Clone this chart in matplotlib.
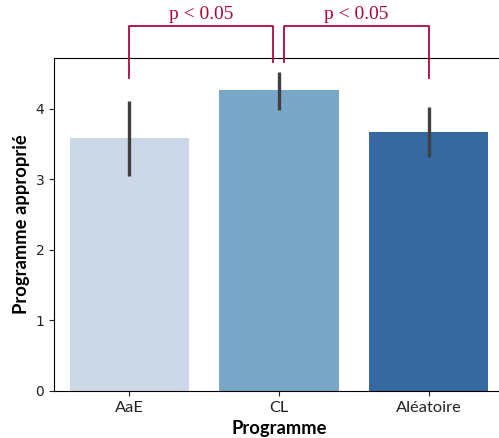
import matplotlib
matplotlib.use("Agg")
import matplotlib.pyplot as plt
import numpy as np

# values
programmes = ["AaE", "CL", "Aléatoire"]
moyennes = [3.58, 4.26, 3.67]
ci_bas = [3.05, 3.99, 3.31]
ci_haut = [4.11, 4.52, 4.03]
couleurs = ["#ccd8e8", "#79a7c8", "#3569a0"]

# significance brackets: (x1, x2, y_top, y_left, y_right, label)
comparaisons = [
    (0.0, 0.963, 5.18, 4.44, 4.67, "p < 0.05"),
    (1.033, 2.0, 5.18, 4.67, 4.44, "p < 0.05"),
]

fig = plt.figure(figsize=(4.99, 4.38), dpi=100)
ax = fig.add_axes([54 / 499, 47 / 438, 450 / 499, 333 / 438])

x = np.arange(len(programmes))
ax.bar(x, moyennes, width=0.8, color=couleurs, zorder=1)
ax.vlines(x, ci_bas, ci_haut, color="#404040", linewidth=2.4, zorder=2)

ax.set_xlim(-0.505, 2.505)
ax.set_ylim(0, 4.72)
ax.set_yticks([0, 1, 2, 3, 4])
ax.set_xticks(x)
ax.set_xticklabels(programmes, family="Lato", fontsize=11.8)
ax.tick_params(axis="y", labelsize=10, colors="#222222")
ax.tick_params(axis="x", colors="#222222")
ax.set_xlabel("Programme", family="Lato", fontweight="bold", fontsize=13.2)
ax.set_ylabel("Programme approprié", family="Lato", fontweight="bold", fontsize=13.2)
ax.spines["right"].set_visible(False)

rouge = "#b0063a"
for x1, x2, yt, yl, yr, lab in comparaisons:
    ax.plot([x1, x1, x2, x2], [yl, yt, yt, yr], color=rouge, linewidth=1.3,
            clip_on=False, zorder=3)
    ax.text((x1 + x2) / 2, yt + 0.04, lab, ha="center", va="bottom",
            color=rouge, family="Liberation Serif", fontsize=14)

fig.savefig("out.png", dpi=100)
